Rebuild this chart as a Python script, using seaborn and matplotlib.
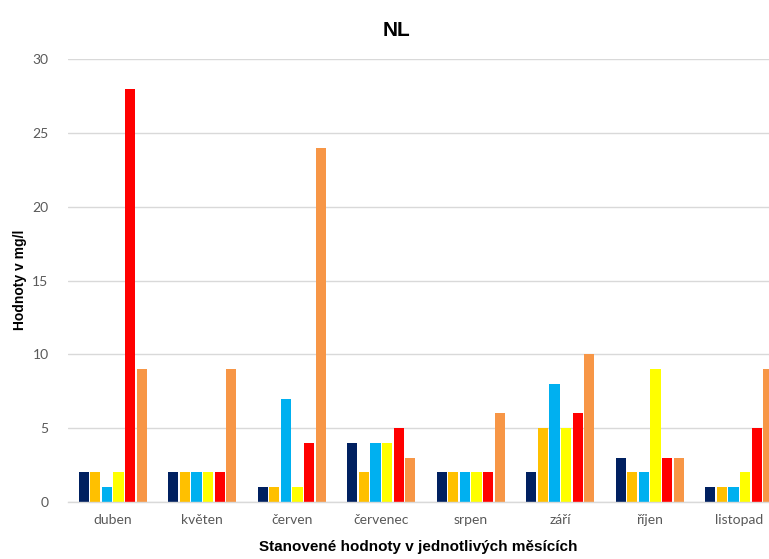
import matplotlib
matplotlib.use("Agg")
import matplotlib.pyplot as plt
import seaborn as sns
import pandas as pd

# Monthly measured values (mg/l) for six sampling points
months = ["duben", "květen", "červen", "červenec", "srpen", "září", "říjen", "listopad"]
series_names = ["místo 1", "místo 2", "místo 3", "místo 4", "místo 5", "místo 6"]
s1 = [2, 2, 1, 4, 2, 2, 3, 1]
s2 = [2, 2, 1, 2, 2, 5, 2, 1]
s3 = [1, 2, 7, 4, 2, 8, 2, 1]
s4 = [2, 2, 1, 4, 2, 5, 9, 2]
s5 = [28, 2, 4, 5, 2, 6, 3, 5]
s6 = [9, 9, 24, 3, 6, 10, 3, 9]
y_ticks = [0, 5, 10, 15, 20, 25, 30]

colors = ["#002060", "#FFC000", "#00B0F0", "#FFFF00", "#FF0000", "#F79646"]

rows = []
for name, vals in zip(series_names, [s1, s2, s3, s4, s5, s6]):
    for m, v in zip(months, vals):
        rows.append({"měsíc": m, "série": name, "hodnota": v})
df = pd.DataFrame(rows)

sns.set_theme(style="white")
plt.rcParams["font.family"] = ["Liberation Sans", "DejaVu Sans"]

fig = plt.figure(figsize=(7.69, 5.59), dpi=100)
left = 68 / 769
bottom = 1 - 502 / 559
top = 1 - 59 / 559
ax = fig.add_axes([left, bottom, 1 - left, top - bottom])

sns.barplot(data=df, x="měsíc", y="hodnota", hue="série", order=months,
            hue_order=series_names, palette=colors, width=0.78, gap=0.12,
            saturation=1, linewidth=0, legend=False, ax=ax)

ax.set_ylim(0, 30)
ax.set_yticks(y_ticks)
ax.set_xlim(-0.5, -0.5 + (769 - 68) / 89.5)
ax.yaxis.grid(True, color="#D9D9D9", linewidth=1)
ax.set_axisbelow(True)
for side in ["top", "right", "left"]:
    ax.spines[side].set_visible(False)
ax.spines["bottom"].set_color("#D9D9D9")
ax.spines["bottom"].set_linewidth(1)

ax.tick_params(axis="both", length=0, colors="#595959")
ax.tick_params(axis="y", pad=14)
ax.tick_params(axis="x", pad=9)
for lbl in ax.get_xticklabels() + ax.get_yticklabels():
    lbl.set_fontfamily(["Lato", "DejaVu Sans"])
    lbl.set_fontsize(10)
    lbl.set_color("#595959")

ax.set_xlabel("Stanovené hodnoty v jednotlivých měsících", fontsize=11,
              fontweight="bold", color="#000000", labelpad=10)
ax.set_ylabel("")
fig.text(20 / 769, 1 - 280 / 559, "Hodnoty v mg/l", rotation=90,
         ha="center", va="center", fontsize=10, fontweight="bold",
         color="#000000")
fig.text(397 / 769, 1 - 30 / 559, "NL", ha="center", va="center",
         fontsize=15, fontweight="bold", color="#000000")

fig.savefig("out.png", dpi=100)
